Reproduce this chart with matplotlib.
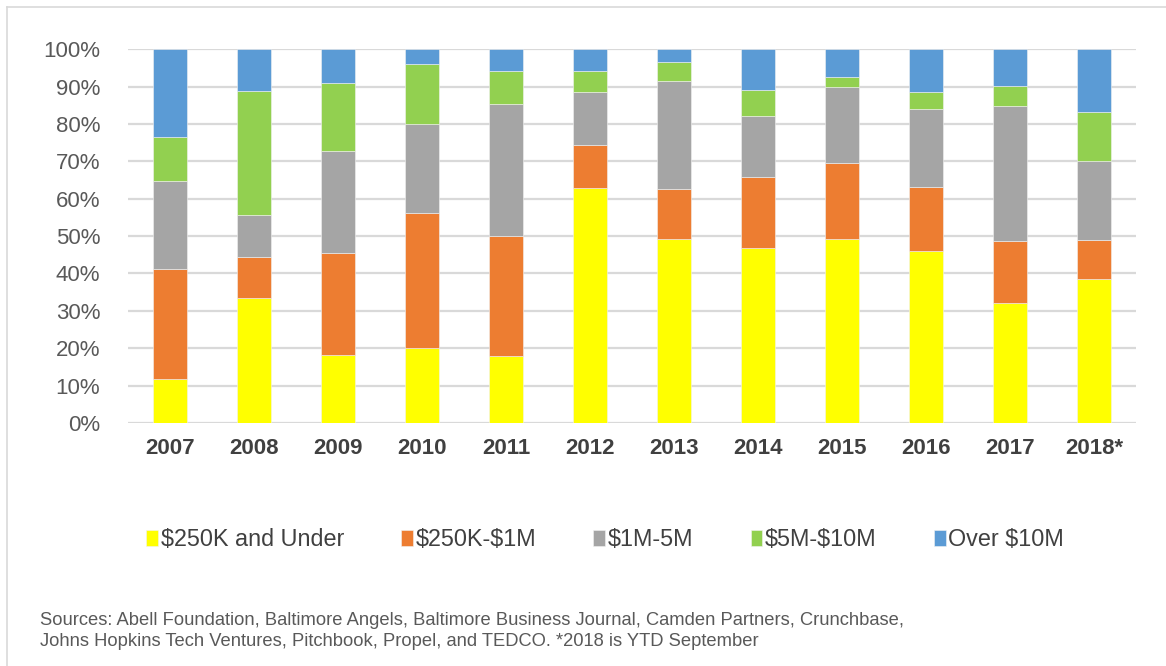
import matplotlib.pyplot as plt
import numpy as np
from matplotlib.lines import Line2D

plt.rcParams['font.family'] = ['Liberation Sans', 'DejaVu Sans']
plt.rcParams['text.parse_math'] = False

years = ["2007", "2008", "2009", "2010", "2011", "2012",
         "2013", "2014", "2015", "2016", "2017", "2018*"]
labels = ["$250K and Under", "$250K-$1M", "$1M-5M", "$5M-$10M", "Over $10M"]
colors = ["#FFFF00", "#ED7D31", "#A5A5A5", "#92D050", "#5B9BD5"]

# share of deals in each size bucket, percent
under_250k = [11.8, 33.5, 18.3, 20.0, 17.8, 62.9, 49.2, 46.7, 49.3, 46.1, 32.0, 38.4]
k250_1m    = [29.4, 10.8, 27.2, 36.1, 32.2, 11.4, 13.5, 19.1, 20.3, 17.1, 16.6, 10.5]
m1_5m      = [23.5, 11.4, 27.3, 23.8, 35.4, 14.3, 28.7, 16.4, 20.2, 20.8, 36.1, 21.3]
m5_10m     = [11.8, 33.2, 18.2, 16.2,  8.8,  5.7,  5.3,  6.9,  2.7,  4.6,  5.6, 12.9]
over_10m   = [23.5, 11.1,  9.0,  3.9,  5.8,  5.7,  3.3, 10.9,  7.5, 11.4,  9.7, 16.9]

series = [under_250k, k250_1m, m1_5m, m5_10m, over_10m]

fig = plt.figure(figsize=(11.66, 6.66), dpi=100)
ax = fig.add_axes([0.1098, 0.365, 0.8644, 0.561])

x = np.arange(len(years))
bottom = np.zeros(len(years))
for vals, lab, col in zip(series, labels, colors):
    ax.bar(x, vals, 0.41, bottom=bottom, color=col, label=lab,
           edgecolor="#f2f2f2", linewidth=0.4, zorder=3)
    bottom += np.array(vals)

ax.set_xlim(-0.5, len(years) - 0.5)
ax.set_ylim(0, 100)
ax.set_yticks(np.arange(0, 101, 10))
ax.set_yticklabels([f"{v}%" for v in range(0, 101, 10)], fontsize=16, color="#595959")
ax.set_xticks(x)
ax.set_xticklabels(years, fontsize=16, fontweight="bold", color="#404040")
ax.tick_params(length=0)
ax.tick_params(axis="x", pad=11)
ax.tick_params(axis="y", pad=20)
ax.grid(axis="y", color="#D9D9D9", linewidth=1.6, zorder=0)
for s in ax.spines.values():
    s.set_visible(False)

fig.legend(loc="center", bbox_to_anchor=(0.519, 0.19), ncol=5, frameon=False,
           fontsize=16.8, handlelength=0.5, handleheight=0.7, handletextpad=0.12,
           columnspacing=2.45, labelcolor="#404040")

fig.text(0.034, 0.053, "Sources: Abell Foundation, Baltimore Angels, Baltimore Business Journal, Camden Partners, Crunchbase,\n"
         "Johns Hopkins Tech Ventures, Pitchbook, Propel, and TEDCO. *2018 is YTD September",
         fontsize=13.2, color="#595959", va="center", linespacing=1.28)

# chart frame
fig.add_artist(Line2D([0.006, 1.0], [0.989, 0.989], color="#D9D9D9", linewidth=1.2))
fig.add_artist(Line2D([0.006, 0.006], [0.0, 0.989], color="#D9D9D9", linewidth=1.2))

fig.savefig("out.png", dpi=100)
